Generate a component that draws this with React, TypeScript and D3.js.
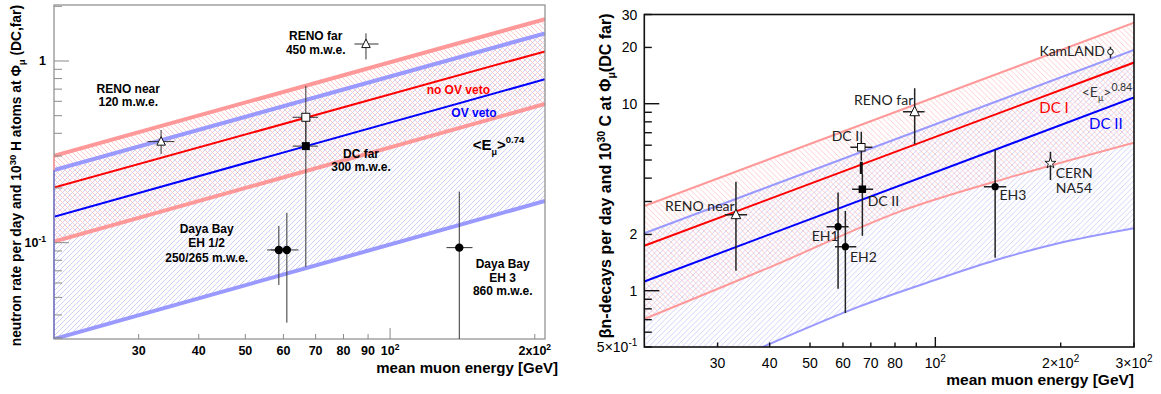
import React from "react";
import * as d3 from "d3";

type P = [number, number];

// ================= LEFT PANEL DATA (neutron rate, <E_mu>^0.74) =================
const leftCurveE = [20, 210];
const leftRedBandUpper = [0.301, 1.7];
const leftBlueBandUpper = [0.251, 1.42];
const leftNoOvVeto = [0.201, 1.13];
const leftOvVeto = [0.139, 0.793];
const leftRedBandLower = [0.1013, 0.58];
const leftBlueBandLower = [0.0295, 0.1697];

const leftPointNames = ["RENO near", "RENO far", "DC far (no OV veto)", "DC far (OV veto)", "Daya Bay EH1", "Daya Bay EH2", "Daya Bay EH3"];
const leftPointMarkers = ["openTriangle", "openTriangle", "openSquare", "filledSquare", "filledCircle", "filledCircle", "filledCircle"];
const leftPointE = [33.4, 89.1, 66.8, 66.8, 58.7, 61.0, 139.3];
const leftPointELow = [31.3, 84.3, 62.7, 62.7, 55.5, 56.5, 131];
const leftPointEHigh = [35.6, 94.6, 70.8, 70.8, 62.0, 64.5, 148.4];
const leftPointRate = [0.36, 1.24, 0.49, 0.34, 0.0912, 0.0912, 0.0939];
const leftPointRateLow = [0.308, 1.02, 0.35, 0.0735, 0.0585, 0.0363, 0.02];
const leftPointRateHigh = [0.417, 1.42, 0.73, 0.49, 0.1235, 0.146, 0.191];

const leftXTickValues = [30, 40, 50, 60, 70, 80, 90, 100, 200];
const leftXTickLabels = ["30", "40", "50", "60", "70", "80", "90", "10^2", "2x10^2"];
const leftYTickValues = [0.03, 0.04, 0.05, 0.06, 0.07, 0.08, 0.09, 0.1, 0.2, 0.3, 0.4, 0.5, 0.6, 0.7, 0.8, 0.9, 1, 2];
const leftYTickLabels = ["", "", "", "", "", "", "", "10^-1", "", "", "", "", "", "", "", "", "1", ""];

// ================= RIGHT PANEL DATA (beta-n decays, <E_mu>^0.84) =================
const rightCurveE = [20, 300];
const rightRedBandUpper = [2.84, 27.1];
const rightBlueBandUpper = [2.03, 19.4];
const rightDcI = [1.74, 16.6];
const rightDcII = [1.12, 10.8];
const rightRedBandLowerE = [20, 40.4, 82.1, 156.7, 300];
const rightRedBandLower = [0.706, 1.346, 2.65, 4.14, 6.19];
const rightBlueBandLowerE = [20, 38.5, 65.8, 95.1, 140, 198.7, 300];
const rightBlueBandLower = [0.26, 0.5, 0.824, 1.1, 1.46, 1.8, 2.16];

const rightPointNames = ["RENO near", "DC I", "DC II", "EH1", "EH2", "RENO far", "EH3", "CERN NA54", "KamLAND"];
const rightPointMarkers = ["openTriangle", "openSquare", "filledSquare", "filledCircle", "filledCircle", "openTriangle", "filledCircle", "openStar", "openCircle"];
const rightPointE = [33.2, 66.4, 66.8, 58.4, 60.8, 89.2, 139.2, 189, 263.4];
const rightPointELow = [31.2, 62.5, 63.1, 54.8, 57.4, 83.6, 130.8, NaN, NaN];
const rightPointEHigh = [35.3, 70.6, 70.9, 61.9, 64.6, 94.2, 148, NaN, NaN];
const rightPointRate = [2.55, 5.85, 3.49, 2.2, 1.72, 9.06, 3.6, 4.81, 18.95];
const rightPointRateLow = [1.28, 4.96, 1.97, 1.025, 0.76, 6.09, 1.5, 3.91, 17.48];
const rightPointRateHigh = [3.83, 7.09, 4.21, 3.35, 2.67, 12.08, 5.66, 5.54, 20.15];
const rightDcISystRange = [4.21, 4.9];

const rightXTickValues = [30, 40, 50, 60, 70, 80, 90, 100, 200, 300];
const rightXTickLabels = ["30", "40", "50", "60", "70", "80", "", "10^2", "2×10^2", "3×10^2"];
const rightYTickValues = [0.5, 0.6, 0.7, 0.8, 0.9, 1, 2, 3, 4, 5, 6, 7, 8, 9, 10, 20, 30];
const rightYTickLabels = ["5×10^-1", "", "", "", "", "1", "2", "", "", "", "", "", "", "", "10", "20", "30"];

// ================= helpers =================
const zip = (e: number[], v: number[]): P[] => e.map((x, i) => [x, v[i]] as P);
const isDecade = (v: number) => Math.abs(Math.log10(v) - Math.round(Math.log10(v))) < 1e-6;

function supLabel(text: string, supSize: number, rise: number) {
  const i = text.indexOf("^");
  if (i < 0) return text;
  return [
    <tspan key="a">{text.slice(0, i)}</tspan>,
    <tspan key="b" fontSize={supSize} dy={-rise}>{text.slice(i + 1)}</tspan>,
  ];
}

function Marker({ kind, x, y, big }: { kind: string; x: number; y: number; big: boolean }) {
  const c = "#111";
  if (kind === "openTriangle") {
    const s = big ? 8.5 : 9.5;
    const p = `M${x},${y - s * 0.58} L${x + s / 2},${y + s * 0.42} L${x - s / 2},${y + s * 0.42} Z`;
    return <path d={p} fill="white" stroke={c} strokeWidth={1} />;
  }
  if (kind === "openSquare") {
    const s = big ? 8 : 7.5;
    return <rect x={x - s / 2} y={y - s / 2} width={s} height={s} fill="white" stroke={c} strokeWidth={1} />;
  }
  if (kind === "filledSquare") {
    const s = big ? 8 : 7.5;
    return <rect x={x - s / 2} y={y - s / 2} width={s} height={s} fill="#000" />;
  }
  if (kind === "filledCircle") {
    return <circle cx={x} cy={y} r={big ? 4.2 : 3.6} fill="#000" />;
  }
  if (kind === "openStar") {
    const d = d3.symbol().type(d3.symbolStar).size(38)() as string;
    return <path d={d} transform={`translate(${x},${y})`} fill="white" stroke={c} strokeWidth={0.9} />;
  }
  if (kind === "openCircle") {
    return <circle cx={x} cy={y} r={2.8} fill="white" stroke={c} strokeWidth={1} />;
  }
  return null;
}

function Hatch({ id, s, color, dir, w }: { id: string; s: number; color: string; dir: "/" | "\\"; w: number }) {
  const d =
    dir === "/"
      ? `M0,${s} L${s},0 M${-s / 2},${s / 2} L${s / 2},${-s / 2} M${s / 2},${s * 1.5} L${s * 1.5},${s / 2}`
      : `M0,0 L${s},${s} M${-s / 2},${s / 2} L${s / 2},${s * 1.5} M${s / 2},${-s / 2} L${s * 1.5},${s / 2}`;
  return (
    <pattern id={id} patternUnits="userSpaceOnUse" width={s} height={s}>
      <path d={d} stroke={color} strokeWidth={w} fill="none" />
    </pattern>
  );
}

// ================= LEFT PANEL =================
function LeftPanel() {
  const L = 54, R = 545, T = 5, B = 339;
  const x = d3.scaleLog().domain([20, 210]).range([L, R]);
  const y = d3.scaleLog().domain([0.0295, 2.033]).range([B, T]);
  const line = d3.line<P>().x((d) => x(d[0])).y((d) => y(d[1]));
  const band = (top: P[], bot: P[]) => line(top)! + "L" + line([...bot].reverse())!.slice(1) + "Z";

  const redUp = zip(leftCurveE, leftRedBandUpper);
  const redLo = zip(leftCurveE, leftRedBandLower);
  const blueUp = zip(leftCurveE, leftBlueBandUpper);
  const blueLo = zip(leftCurveE, leftBlueBandLower);
  const frameC = "#8a8a8a";
  const font = "'Liberation Sans', Arial, sans-serif";

  return (
    <g fontFamily={font}>
      <defs>
        <clipPath id="clipL"><rect x={L} y={T} width={R - L} height={B - T} /></clipPath>
        <Hatch id="hpL" s={5} color="#ffc2c2" dir="\\" w={0.85} />
        <Hatch id="hbL" s={5} color="#c6c6f6" dir="/" w={0.85} />
      </defs>
      <g clipPath="url(#clipL)">
        <path d={band(blueUp, blueLo)} fill="url(#hbL)" />
        <path d={band(redUp, redLo)} fill="url(#hpL)" />
        <path d={line(blueLo)!} stroke="#9999ff" strokeWidth={4} fill="none" />
        <path d={line(redLo)!} stroke="#ff9999" strokeWidth={4} fill="none" />
        <path d={line(blueUp)!} stroke="#9999ff" strokeWidth={4} fill="none" />
        <path d={line(redUp)!} stroke="#ff9999" strokeWidth={4} fill="none" />
        <path d={line(zip(leftCurveE, leftNoOvVeto))!} stroke="#ff0000" strokeWidth={2} fill="none" />
        <path d={line(zip(leftCurveE, leftOvVeto))!} stroke="#0000ff" strokeWidth={2} fill="none" />
      </g>
      {/* frame */}
      <rect x={L} y={T} width={R - L} height={B - T} fill="none" stroke={frameC} strokeWidth={1.2} />
      <line x1={L} x2={L} y1={y(leftRedBandUpper[0])} y2={y(leftBlueBandUpper[0])} stroke="#ff9999" strokeWidth={1.5} />
      <line x1={L} x2={L} y1={y(leftBlueBandUpper[0])} y2={B} stroke="#7a7ad0" strokeWidth={1.5} />
      {/* x ticks */}
      {leftXTickValues.map((v, i) => (
        <g key={"lx" + i}>
          <line x1={x(v)} x2={x(v)} y1={B} y2={B - (isDecade(v) ? 11 : 5)} stroke={frameC} strokeWidth={1} />
          <text x={x(v)} y={355} textAnchor="middle" fontSize={12.5} fontWeight="bold">
            {supLabel(leftXTickLabels[i], 8.5, 5)}
          </text>
        </g>
      ))}
      {/* y ticks */}
      {leftYTickValues.map((v, i) => (
        <g key={"ly" + i}>
          <line x1={L} x2={L + (isDecade(v) ? 15 : 8)} y1={y(v)} y2={y(v)} stroke={frameC} strokeWidth={1} />
          {leftYTickLabels[i] && (
            <text x={46} y={y(v) + 4.5} textAnchor="end" fontSize={12.5} fontWeight="bold">
              {supLabel(leftYTickLabels[i], 8.5, 5)}
            </text>
          )}
        </g>
      ))}
      {/* titles */}
      <text x={558} y={373} textAnchor="end" fontSize={15} fontWeight="bold">mean muon energy [GeV]</text>
      <text transform={`translate(21,5) rotate(-90)`} textAnchor="end" fontSize={13.8} fontWeight="bold">
        neutron rate per day and 10<tspan fontSize={9.5} dy={-5}>30</tspan>
        <tspan dy={5}> H atoms at Φ</tspan>
        <tspan fontSize={9.5} dy={4}>μ</tspan>
        <tspan dy={-4}> (DC,far)</tspan>
      </text>
      {/* data points */}
      <g clipPath="url(#clipL)">
        {leftPointNames.map((n, i) => (
          <g key={n}>
            <line x1={x(leftPointE[i])} x2={x(leftPointE[i])} y1={y(leftPointRateLow[i])} y2={y(leftPointRateHigh[i])} stroke="#333" strokeWidth={1} />
            <line x1={x(leftPointELow[i])} x2={x(leftPointEHigh[i])} y1={y(leftPointRate[i])} y2={y(leftPointRate[i])} stroke="#333" strokeWidth={1} />
          </g>
        ))}
        {leftPointNames.map((n, i) => (
          <Marker key={n + "m"} kind={leftPointMarkers[i]} x={x(leftPointE[i])} y={y(leftPointRate[i])} big={true} />
        ))}
      </g>
      {/* annotations */}
      <g fontSize={12} fontWeight="bold" textAnchor="middle">
        <text x={128.3} y={93.3}>RENO near</text>
        <text x={128.3} y={106}>120 m.w.e.</text>
        <text x={315.7} y={40}>RENO far</text>
        <text x={315.7} y={53.6}>450 m.w.e.</text>
        <text x={458.3} y={93.6} fill="#ff0000">no OV veto</text>
        <text x={474} y={117} fill="#0000ff">OV veto</text>
        <text x={361} y={158.3}>DC far</text>
        <text x={361} y={171}>300 m.w.e.</text>
        <text x={206.7} y={233.3}>Daya Bay</text>
        <text x={206.7} y={247}>EH 1/2</text>
        <text x={206.7} y={261.6}>250/265 m.w.e.</text>
        <text x={502.7} y={268.3}>Daya Bay</text>
        <text x={502.7} y={281.6}>EH 3</text>
        <text x={502.7} y={295.3}>860 m.w.e.</text>
      </g>
      <text x={472.7} y={149.5} fontSize={15} fontWeight="bold">
        {"<E"}<tspan fontSize={9} dy={5}>μ</tspan><tspan dy={-5}>{">"}</tspan>
        <tspan fontSize={9.5} dy={-7}>0.74</tspan>
      </text>
    </g>
  );
}

// ================= RIGHT PANEL =================
function RightPanel() {
  const L = 644.3, R = 1134, T = 14.5, B = 347;
  const x = d3.scaleLog().domain([20, 300]).range([L, R]);
  const y = d3.scaleLog().domain([0.5, 30]).range([B, T]);
  const line = d3.line<P>().x((d) => x(d[0])).y((d) => y(d[1])).curve(d3.curveCatmullRom.alpha(0.5));
  const band = (top: P[], bot: P[]) => line(top)! + "L" + line([...bot].reverse())!.slice(1) + "Z";

  const redUp = zip(rightCurveE, rightRedBandUpper);
  const redLo = zip(rightRedBandLowerE, rightRedBandLower);
  const blueUp = zip(rightCurveE, rightBlueBandUpper);
  const blueLo = zip(rightBlueBandLowerE, rightBlueBandLower);
  const font = "'Liberation Sans', Arial, sans-serif";
  const lab = "Lato, 'Open Sans', sans-serif";

  return (
    <g fontFamily={font}>
      <defs>
        <clipPath id="clipR"><rect x={L} y={T} width={R - L} height={B - T} /></clipPath>
        <Hatch id="hpR" s={5.5} color="#ffc4c4" dir="\\" w={0.85} />
        <Hatch id="hbR" s={5.5} color="#c8c8f8" dir="/" w={0.85} />
      </defs>
      <g clipPath="url(#clipR)">
        <path d={band(blueUp, blueLo)} fill="url(#hbR)" />
        <path d={band(redUp, redLo)} fill="url(#hpR)" />
        <path d={line(blueLo)!} stroke="#9999ff" strokeWidth={2} fill="none" />
        <path d={line(redLo)!} stroke="#ff9999" strokeWidth={2} fill="none" />
        <path d={line(blueUp)!} stroke="#9999ff" strokeWidth={2} fill="none" />
        <path d={line(redUp)!} stroke="#ff9999" strokeWidth={2} fill="none" />
        <path d={line(zip(rightCurveE, rightDcI))!} stroke="#ff0000" strokeWidth={2} fill="none" />
        <path d={line(zip(rightCurveE, rightDcII))!} stroke="#0000ff" strokeWidth={2} fill="none" />
      </g>
      <rect x={L} y={T} width={R - L} height={B - T} fill="none" stroke="#111" strokeWidth={1.6} />
      {rightXTickValues.map((v, i) => (
        <g key={"rx" + i}>
          <line x1={x(v)} x2={x(v)} y1={B} y2={B - (isDecade(v) ? 10 : 4.5)} stroke="#111" strokeWidth={1.4} />
          {rightXTickLabels[i] && (
            <text x={x(v)} y={368.3} textAnchor="middle" fontSize={14}>
              {supLabel(rightXTickLabels[i], 10, 6)}
            </text>
          )}
        </g>
      ))}
      {rightYTickValues.map((v, i) => (
        <g key={"ry" + i}>
          <line x1={L} x2={L + (isDecade(v) ? 15 : 7.5)} y1={y(v)} y2={y(v)} stroke="#111" strokeWidth={1.4} />
          {rightYTickLabels[i] && (
            <text x={637.3} y={y(v) + 5} textAnchor="end" fontSize={14}>
              {supLabel(rightYTickLabels[i], 10, 6)}
            </text>
          )}
        </g>
      ))}
      <text x={1134} y={385} textAnchor="end" fontSize={15.5} fontWeight="bold">mean muon energy [GeV]</text>
      <text transform={`translate(610.5,13.5) rotate(-90)`} textAnchor="end" fontSize={16} fontWeight="bold">
        βn-decays per day and 10<tspan fontSize={10.5} dy={-6}>30</tspan>
        <tspan dy={6}> C at Φ</tspan>
        <tspan fontSize={10.5} dy={4}>μ</tspan>
        <tspan dy={-4}>(DC far)</tspan>
      </text>
      <g clipPath="url(#clipR)">
        {rightPointNames.map((n, i) => (
          <g key={n}>
            <line x1={x(rightPointE[i])} x2={x(rightPointE[i])} y1={y(rightPointRateLow[i])} y2={y(rightPointRateHigh[i])} stroke="#222" strokeWidth={1.5} />
            {!isNaN(rightPointELow[i]) && (
              <line x1={x(rightPointELow[i])} x2={x(rightPointEHigh[i])} y1={y(rightPointRate[i])} y2={y(rightPointRate[i])} stroke="#222" strokeWidth={1.5} />
            )}
          </g>
        ))}
        <line x1={x(rightPointE[1])} x2={x(rightPointE[1])} y1={y(rightDcISystRange[0])} y2={y(rightDcISystRange[1])} stroke="#111" strokeWidth={3} />
        {rightPointNames.map((n, i) => (
          <Marker key={n + "m"} kind={rightPointMarkers[i]} x={x(rightPointE[i])} y={y(rightPointRate[i])} big={false} />
        ))}
      </g>
      <g fontFamily={lab} fontSize={14} fill="#222">
        <text x={1105} y={55.7} textAnchor="end">KamLAND</text>
        <text x={854} y={105}>RENO far</text>
        <text x={831.7} y={141}>DC I</text>
        <text x={867.7} y={205.7}>DC II</text>
        <text x={665} y={211}>RENO near</text>
        <text x={811.7} y={241}>EH1</text>
        <text x={850} y={262.3}>EH2</text>
        <text x={999.5} y={200}>EH3</text>
        <text x={1055.7} y={177.7}>CERN</text>
        <text x={1055.7} y={193.3}>NA54</text>
        <text x={1039.3} y={112.5} fontSize={15} fill="#ff0000">DC I</text>
        <text x={1089} y={129} fontSize={15} fill="#0000ff">DC II</text>
        <text x={1081.7} y={96.5} fill="#333">
          {"<E"}<tspan fontSize={9} dy={4}>μ</tspan><tspan dy={-4}>{">"}</tspan>
          <tspan fontSize={10.5} dy={-6}>0.84</tspan>
        </text>
      </g>
    </g>
  );
}

export default function App() {
  return (
    <svg width={1161} height={394} viewBox="0 0 1161 394" style={{ position: "absolute", left: 0, top: 0, background: "white" }}>
      <rect x={0} y={0} width={1161} height={394} fill="white" />
      <LeftPanel />
      <RightPanel />
    </svg>
  );
}
